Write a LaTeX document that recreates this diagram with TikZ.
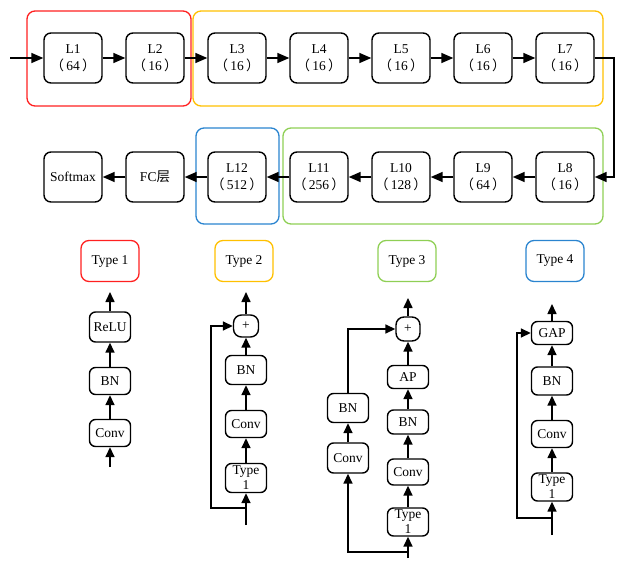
\documentclass[tikz,border=0pt]{standalone}
\usepackage{fontspec}
\setmainfont{Liberation Serif}
\newfontfamily\cjk{Noto Sans CJK SC}
\usetikzlibrary{arrows.meta}
\definecolor{grpred}{HTML}{FF2020}
\definecolor{grpyellow}{HTML}{FFC000}
\definecolor{grpgreen}{HTML}{8FCF55}
\definecolor{grpblue}{HTML}{2A84CF}
\newcommand{\pn}[1]{{\cjk （}\,#1\,{\cjk ）}}
\tikzset{layer/.style={draw,line width=1.4pt,rounded corners=7pt,minimum width=58pt,minimum height=50pt,align=center,inner sep=1pt,font=\fontsize{13.5}{17}\selectfont},blk/.style={layer,minimum width=41pt,minimum height=27pt,rounded corners=6pt,inner sep=0pt,font=\fontsize{13.5}{15}\selectfont},plus/.style={blk,minimum width=25pt,minimum height=22pt,rounded corners=8pt},tag/.style={draw=#1,line width=1.3pt,rounded corners=8pt,minimum width=58pt,minimum height=41pt,font=\fontsize{13.5}{15}\selectfont},grp/.style={draw=#1,line width=1.3pt,rounded corners=8pt},arr/.style={-{Triangle[length=12pt,width=10pt]},line width=1.6pt},sarr/.style={-{Triangle[length=10pt,width=9pt]},line width=1.6pt}}

\begin{document}
\begin{tikzpicture}[x=1pt,y=-1pt]
\useasboundingbox (0,0) rectangle (636,570);
\draw[grp=grpred] (27,11) rectangle (191,106);
\draw[grp=grpyellow] (193,11) rectangle (603,106);
\draw[grp=grpblue] (196,128) rectangle (279,224);
\draw[grp=grpgreen] (283,128) rectangle (603,224);
\foreach \i/\w in {1/64,2/16,3/16,4/16,5/16,6/16,7/16}
  \node[layer] (L\i) at ({73+82*(\i-1)},58) {L\i\\\pn{\w}};
\foreach \i/\w in {8/16,9/64,10/128,11/256,12/512}
  \node[layer] (L\i) at ({565-82*(\i-8)},177) {L\i\\\pn{\w}};
\node[layer] (fc) at (155,177) {FC{\cjk 层}};
\node[layer] (sm) at (73,177) {Softmax};
\coordinate (in) at (10,58);
\draw[arr] (in) -- (L1);
\foreach \a/\b in {1/2,2/3,3/4,4/5,5/6,6/7,8/9,9/10,10/11,11/12}
  \draw[arr] (L\a) -- (L\b);
\draw[arr] (L7.east) -- ++(19,0) |- (L8.east);
\draw[arr] (L12) -- (fc);
\draw[arr] (fc) -- (sm);
\foreach \x/\col/\t in {110/grpred/1,244/grpyellow/2,407/grpgreen/3,555/grpblue/4}
  \node[tag=\col] (t\t) at (\x,261) {Type \t};
\node[blk] (c1) at (110,433) {Conv};
\node[blk] (b1) at (110,381) {BN};
\node[blk,minimum height=30pt] (r1) at (110,327) {ReLU};
\coordinate (i1) at (110,467);
\coordinate (o1) at (110,292);
\draw[sarr] (i1) -- (c1);
\draw[sarr] (c1) -- (b1);
\draw[sarr] (b1) -- (r1);
\draw[sarr] (r1) -- (o1);
\node[blk,minimum height=29pt] (ty2) at (246,478) {Type\\1};
\node[blk] (c2) at (246,424) {Conv};
\node[blk,minimum height=29pt] (b2) at (246,370) {BN};
\node[plus] (p2) at (246,326) {+};
\coordinate (i2) at (246,525);
\coordinate (s2) at (246,508);
\coordinate (o2) at (246,292);
\draw[sarr] (i2) -- (ty2);
\draw[sarr] (ty2) -- (c2);
\draw[sarr] (c2) -- (b2);
\draw[sarr] (b2) -- (p2);
\draw[sarr] (p2) -- (o2);
\draw[sarr] (s2) -- ++(-35,0) |- (p2);
\node[blk,minimum height=28pt] (ty3) at (408,522) {Type\\1};
\node[blk,minimum height=26pt] (c3) at (408,472) {Conv};
\node[blk,minimum height=24pt] (b3) at (408,422) {BN};
\node[blk,minimum height=23pt] (a3) at (408,377) {AP};
\node[plus,minimum width=24pt,minimum height=24pt] (p3) at (408,329) {+};
\node[blk,minimum height=30pt] (cl3) at (348,458) {Conv};
\node[blk,minimum height=29pt] (bl3) at (348,408) {BN};
\coordinate (i3) at (408,558);
\coordinate (s3) at (408,552);
\coordinate (o3) at (408,298);
\draw[sarr] (i3) -- (ty3);
\draw[sarr] (ty3) -- (c3);
\draw[sarr] (c3) -- (b3);
\draw[sarr] (b3) -- (a3);
\draw[sarr] (a3) -- (p3);
\draw[sarr] (p3) -- (o3);
\draw[sarr] (s3) -| (cl3);
\draw[sarr] (cl3) -- (bl3);
\draw[sarr] (bl3) |- (p3);
\node[blk,minimum height=28pt] (ty4) at (552,487) {Type\\1};
\node[blk] (c4) at (552,434) {Conv};
\node[blk,minimum height=28pt] (b4) at (552,381) {BN};
\node[blk,minimum height=23pt] (g4) at (552,333) {GAP};
\coordinate (i4) at (552,535);
\coordinate (s4) at (552,518);
\coordinate (o4) at (552,304);
\draw[sarr] (i4) -- (ty4);
\draw[sarr] (ty4) -- (c4);
\draw[sarr] (c4) -- (b4);
\draw[sarr] (b4) -- (g4);
\draw[sarr] (g4) -- (o4);
\draw[sarr] (s4) -- ++(-35,0) |- (g4);
\end{tikzpicture}
\end{document}
